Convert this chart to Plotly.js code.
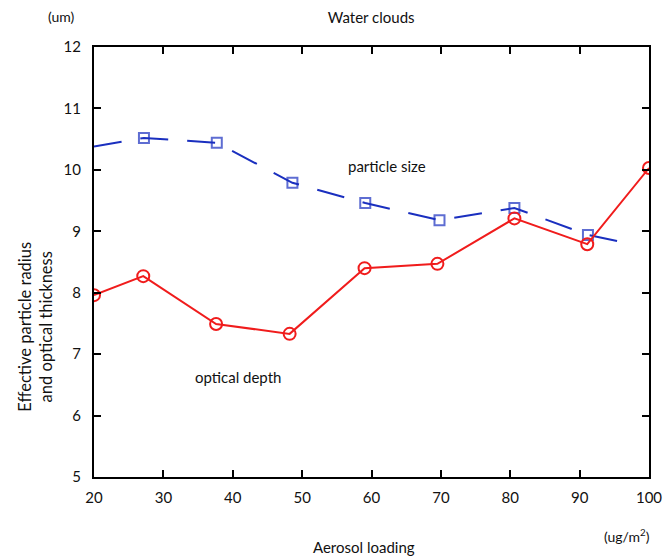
<!DOCTYPE html>
<html>
<head>
<meta charset="utf-8">
<script src="https://cdn.plot.ly/plotly-3.0.1.min.js"></script>
<style>html,body{margin:0;padding:0;background:#fff;}#chart{width:664px;height:557px;}</style>
</head>
<body>
<div id="chart"></div>
<script>
const sizeX = [20, 27.2, 37.7, 48.6, 59.1, 69.8, 80.6, 91.2, 95.5];
const sizeY = [10.38, 10.52, 10.44, 9.79, 9.46, 9.18, 9.38, 8.94, 8.84];
const sizeMarker = [0, 1, 1, 1, 1, 1, 1, 1, 0];
const depthX = [20, 27.1, 37.6, 48.2, 59.0, 69.5, 80.6, 91.1, 100];
const depthY = [7.96, 8.27, 7.49, 7.33, 8.40, 8.47, 9.21, 8.79, 10.03];
const xTicks = [20, 30, 40, 50, 60, 70, 80, 90, 100];
const yTicks = [5, 6, 7, 8, 9, 10, 11, 12];

const FONT = 'Lato, "Open Sans", sans-serif';

const traces = [
  {
    x: sizeX, y: sizeY, type: 'scatter', mode: 'lines+markers',
    line: {color: '#1a2fbf', width: 2, dash: '28px,19px'},
    marker: {symbol: 'square-open', size: sizeMarker.map(v => v ? 10 : 0), color: '#1a2fbf', line: {width: 2, color: '#1a2fbf'}},
    name: 'particle size', cliponaxis: true
  },
  {
    x: depthX, y: depthY, type: 'scatter', mode: 'lines+markers',
    line: {color: '#f01c1c', width: 2},
    marker: {symbol: 'circle-open', size: 12, color: '#f01c1c', line: {width: 2, color: '#f01c1c'}},
    name: 'optical depth', cliponaxis: true
  }
];

const layout = {
  width: 664, height: 557,
  margin: {l: 94, r: 15, t: 47, b: 80},
  paper_bgcolor: '#fff', plot_bgcolor: '#fff',
  showlegend: false,
  font: {family: FONT, size: 15, color: '#111'},
  title: {text: 'Water clouds', x: 0.559, xanchor: 'center', y: 0.968, yanchor: 'middle', font: {family: FONT, size: 15, color: '#111'}},
  xaxis: {
    range: [20, 100], tickvals: xTicks, ticktext: xTicks.map(String),
    showgrid: false, zeroline: false,
    showline: true, linecolor: '#000', linewidth: 2, mirror: 'ticks',
    ticks: 'inside', ticklen: 7, tickwidth: 2, tickcolor: '#000',
    ticklabelstandoff: 6,
    tickfont: {family: FONT, size: 15, color: '#111'}
  },
  yaxis: {
    range: [5, 12], tickvals: yTicks, ticktext: yTicks.map(String),
    showgrid: false, zeroline: false,
    showline: true, linecolor: '#000', linewidth: 2, mirror: 'ticks',
    ticks: 'inside', ticklen: 7, tickwidth: 2, tickcolor: '#000',
    ticklabelstandoff: 8,
    tickfont: {family: FONT, size: 15, color: '#111'}
  },
  annotations: [
    {text: '(um)', xref: 'paper', yref: 'paper', x: -0.058, y: 1.07, xanchor: 'center', yanchor: 'middle', showarrow: false, font: {family: FONT, size: 14, color: '#111'}},
    {text: 'Effective particle radius<br>and optical thickness', xref: 'paper', yref: 'paper', x: -0.106, y: 0.35, xanchor: 'center', yanchor: 'middle', textangle: -90, showarrow: false, font: {family: FONT, size: 16.5, color: '#111'}},
    {text: 'Aerosol loading', xref: 'paper', yref: 'paper', x: 0.486, y: -0.163, xanchor: 'center', yanchor: 'middle', showarrow: false, font: {family: FONT, size: 15, color: '#111'}},
    {text: '(ug/m<sup>2</sup>)', xref: 'paper', yref: 'paper', x: 0.96, y: -0.135, xanchor: 'center', yanchor: 'middle', showarrow: false, font: {family: FONT, size: 14, color: '#111'}},
    {text: 'particle size', xref: 'x', yref: 'y', x: 62.3, y: 10.07, xanchor: 'center', yanchor: 'middle', showarrow: false, font: {family: FONT, size: 15, color: '#111'}},
    {text: 'optical depth', xref: 'x', yref: 'y', x: 40.8, y: 6.63, xanchor: 'center', yanchor: 'middle', showarrow: false, font: {family: FONT, size: 15, color: '#111'}}
  ]
};

Plotly.newPlot('chart', traces, layout, {displayModeBar: false, staticPlot: true});
</script>
</body>
</html>
